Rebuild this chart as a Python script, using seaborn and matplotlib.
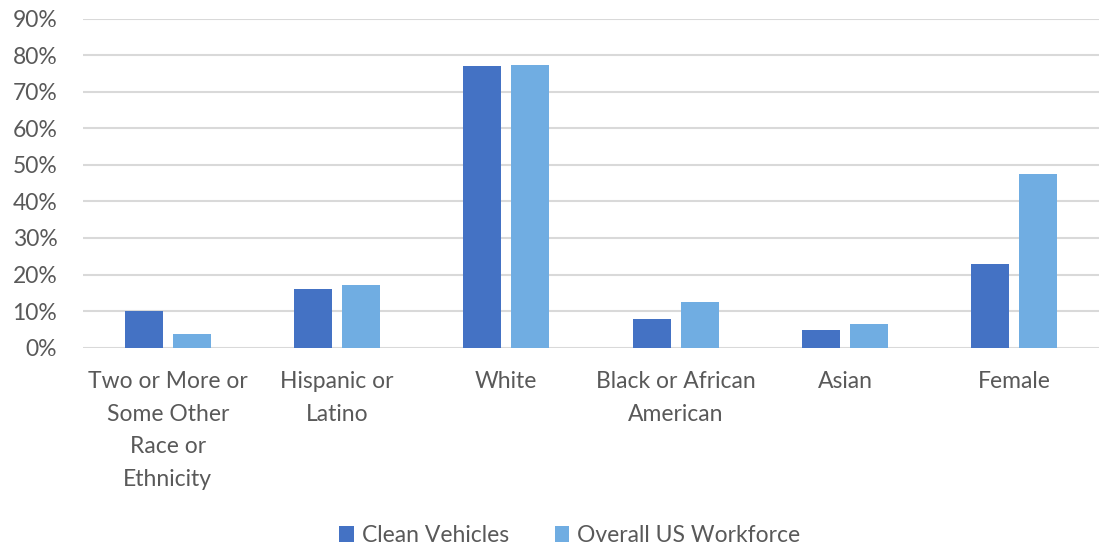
import matplotlib
matplotlib.use("Agg")
import matplotlib.pyplot as plt
from matplotlib.ticker import PercentFormatter
import seaborn as sns
import pandas as pd

categories = [
    "Two or More or\nSome Other\nRace or\nEthnicity",
    "Hispanic or\nLatino",
    "White",
    "Black or African\nAmerican",
    "Asian",
    "Female",
]
clean_vehicles = [10.0, 16.0, 77.0, 7.8, 4.9, 23.0]
overall_workforce = [3.6, 17.1, 77.2, 12.6, 6.5, 47.6]
series_names = ["Clean Vehicles", "Overall US Workforce"]
y_ticks = [0, 10, 20, 30, 40, 50, 60, 70, 80, 90]

df = pd.DataFrame({
    "category": categories * 2,
    "series": [series_names[0]] * len(categories) + [series_names[1]] * len(categories),
    "value": clean_vehicles + overall_workforce,
})

sns.set_theme(style="white")
plt.rcParams["font.family"] = ["Lato", "DejaVu Sans"]

text_color = "#595959"
grid_color = "#D9D9D9"
palette = {series_names[0]: "#4472C4", series_names[1]: "#70ADE2"}

fig = plt.figure(figsize=(11, 5.5), dpi=100)
ax = fig.add_axes([0.0755, 0.368, 0.9235, 0.598])

sns.barplot(
    data=df, x="category", y="value", hue="series",
    order=categories, hue_order=series_names, palette=palette,
    width=0.566, gap=0.21, saturation=1, linewidth=0, ax=ax, zorder=3,
)

ax.set_ylim(0, 90)
ax.set_xlim(-0.5, len(categories) - 0.5)
ax.set_yticks(y_ticks)
ax.yaxis.set_major_formatter(PercentFormatter(decimals=0))
ax.yaxis.grid(True, color=grid_color, linewidth=1.5, zorder=0)
ax.set_axisbelow(True)
for s in ax.spines.values():
    s.set_visible(False)

ax.set_xlabel("")
ax.set_ylabel("")
ax.tick_params(axis="y", length=0, pad=18.5, labelsize=16.5, labelcolor=text_color)
ax.tick_params(axis="x", length=0, pad=17, labelsize=16.5, labelcolor=text_color)
for lbl in ax.get_xticklabels():
    lbl.set_linespacing(1.68)
    lbl.set_verticalalignment("top")

leg = ax.legend(
    loc="center", bbox_to_anchor=(0.479, -0.571), ncol=2, frameon=False,
    fontsize=16.5, handlelength=0.65, handleheight=0.65, handletextpad=0.35,
    columnspacing=2.0, labelcolor=text_color,
)

fig.savefig("out.png", dpi=100, facecolor="white")
